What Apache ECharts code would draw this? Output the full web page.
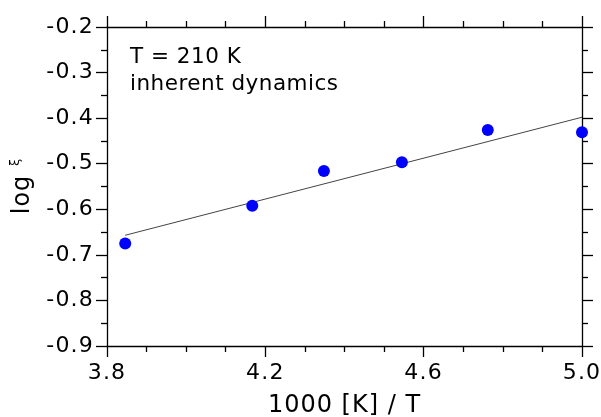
<!DOCTYPE html>
<html>
<head>
<meta charset="utf-8">
<script src="https://cdn.jsdelivr.net/npm/echarts@6/dist/echarts.min.js"></script>
<style>
html,body{margin:0;padding:0;background:#fff;}
#chart{width:601px;height:417px;}
</style>
</head>
<body>
<div id="chart"></div>
<script>
// data
const invT = [3.846, 4.167, 4.348, 4.545, 4.762, 5.0];
const logXi = [-0.675, -0.592, -0.516, -0.497, -0.426, -0.431];
const fitX = [3.846, 5.0];
const fitY = [-0.657, -0.398];
const xTicks = [3.8, 4.2, 4.6, 5.0];
const yTicks = [-0.9, -0.8, -0.7, -0.6, -0.5, -0.4, -0.3, -0.2];
const annotation = ['T = 210 K', 'inherent dynamics'];

// slightly wider letter spacing, to mimic the reference's wide text
(function () {
  const proto = CanvasRenderingContext2D.prototype;
  const d = Object.getOwnPropertyDescriptor(proto, 'font');
  if (!d || !('letterSpacing' in proto)) return;
  const map = {'22px': '1.2px', '24px': '1px', '21.5px': '0.5px'};
  Object.defineProperty(proto, 'font', {
    configurable: true,
    get() { return d.get.call(this); },
    set(v) {
      d.set.call(this, v);
      const m = /([\d.]+px)/.exec(v);
      this.letterSpacing = (m && map[m[1]]) || '0px';
    }
  });
})();

const FONT = '"DejaVu Sans", Verdana, sans-serif';
const chart = echarts.init(document.getElementById('chart'), null, {renderer: 'canvas'});

const lineSt = {color: '#000', width: 1.3};
function axisCommon(showLabels, minorSplit) {
  return {
    axisLine: {show: true, onZero: false, lineStyle: lineSt},
    axisTick: {show: true, inside: false, length: 11, lineStyle: lineSt},
    minorTick: {show: true, splitNumber: minorSplit, length: 6, lineStyle: lineSt},
    splitLine: {show: false},
    axisLabel: {show: showLabels}
  };
}

const xBase = {type: 'value', min: xTicks[0], max: xTicks[xTicks.length - 1], interval: 0.4};
const yBase = {type: 'value', min: yTicks[0], max: yTicks[yTicks.length - 1], interval: 0.1};

const option = {
  backgroundColor: '#fff',
  animation: false,
  grid: {left: 107, right: 19, top: 27, bottom: 71, containLabel: false, outerBoundsMode: 'none'},
  xAxis: [
    Object.assign({}, xBase, axisCommon(true, 4), {
      position: 'bottom',
      axisLabel: {show: true, margin: 16, color: '#000', fontSize: 22, fontFamily: FONT,
        formatter: v => v.toFixed(1)},
      name: '1000 [K] / T', nameLocation: 'middle', nameGap: 47,
      nameTextStyle: {color: '#000', fontSize: 24, fontFamily: FONT}
    }),
    Object.assign({}, xBase, axisCommon(false, 4), {position: 'top'})
  ],
  yAxis: [
    Object.assign({}, yBase, axisCommon(true, 2), {
      position: 'left',
      axisLabel: {show: true, margin: 13, color: '#000', fontSize: 22, fontFamily: FONT,
        formatter: v => v.toFixed(1)},
      name: '{a|log }{b|ξ}', nameLocation: 'middle', nameGap: 63, nameRotate: 90,
      nameTextStyle: {color: '#000', fontSize: 24, fontFamily: FONT,
        rich: {
          a: {fontSize: 24, fontFamily: FONT, color: '#000', lineHeight: 28},
          b: {fontSize: 13, fontFamily: FONT, color: '#000', verticalAlign: 'top', lineHeight: 28, padding: [0, 0, 10, 0]}
        }}
    }),
    Object.assign({}, yBase, axisCommon(false, 2), {position: 'right'})
  ],
  graphic: [{
    type: 'text', left: 130, top: 44, z: 10,
    style: {text: annotation.join('\n'), font: '21.5px ' + FONT, lineHeight: 27, fill: '#000'}
  }],
  series: [
    {
      type: 'line', xAxisIndex: 0, yAxisIndex: 0,
      data: fitX.map((x, i) => [x, fitY[i]]),
      showSymbol: false, symbol: 'none',
      lineStyle: {color: '#444', width: 1}, z: 2, silent: true
    },
    {
      type: 'scatter', xAxisIndex: 0, yAxisIndex: 0,
      data: invT.map((x, i) => [x, logXi[i]]),
      symbol: 'circle', symbolSize: 12,
      itemStyle: {color: '#0000ff', opacity: 1}, z: 3
    }
  ]
};
chart.setOption(option);
</script>
</body>
</html>
